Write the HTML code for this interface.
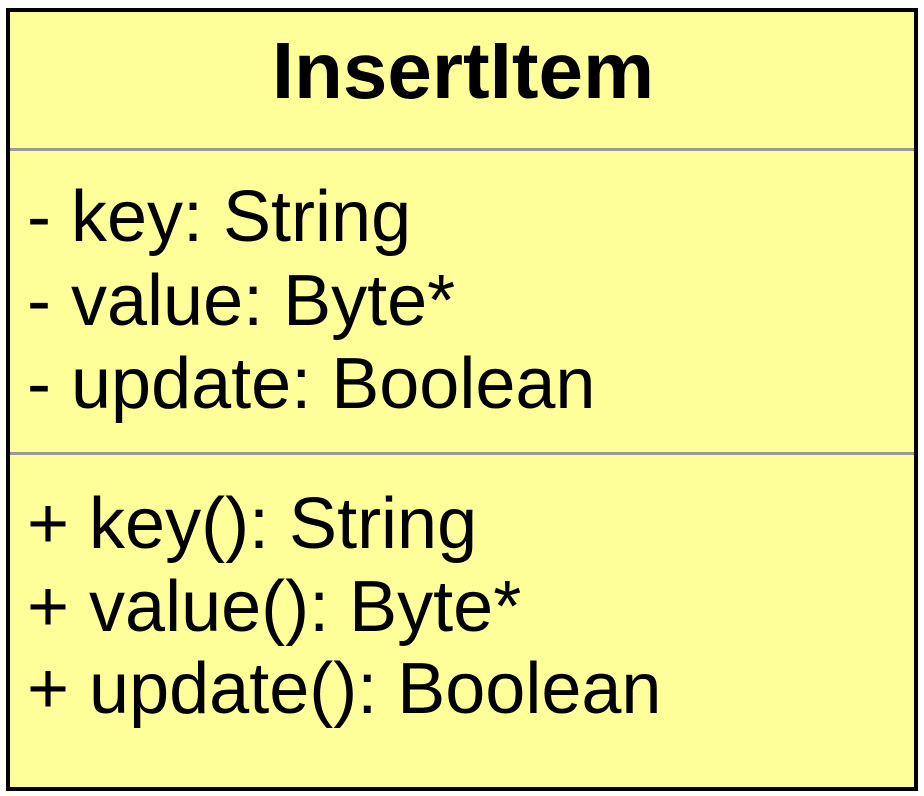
<!DOCTYPE html>
<html><head><style>
body{margin:0;width:924px;height:796px;background:#fff;position:relative;overflow:hidden;font-family:"Liberation Sans",Arial,sans-serif;}
.box{position:absolute;left:6px;top:8px;width:904px;height:775px;border:4px solid #000;background:#ffff99;}
.hr{position:absolute;left:10px;width:904px;height:3px;background:#999;}
.t{position:absolute;white-space:nowrap;color:#000;font-size:72px;line-height:1;}
</style></head><body>
<div class="box"></div>
<div class="hr" style="top:148px"></div>
<div class="hr" style="top:452px"></div>
<div class="t" style="left:0;width:926px;text-align:center;top:31px;font-weight:bold;font-size:80px;">InsertItem</div>
<div class="t" style="left:27px;top:181px">- key: String</div>
<div class="t" style="left:27px;top:265px">- value: Byte*</div>
<div class="t" style="left:27px;top:348px">- update: Boolean</div>
<div class="t" style="left:27px;top:488px">+ key(): String</div>
<div class="t" style="left:27px;top:571px">+ value(): Byte*</div>
<div class="t" style="left:27px;top:653px">+ update(): Boolean</div>
</body></html>
